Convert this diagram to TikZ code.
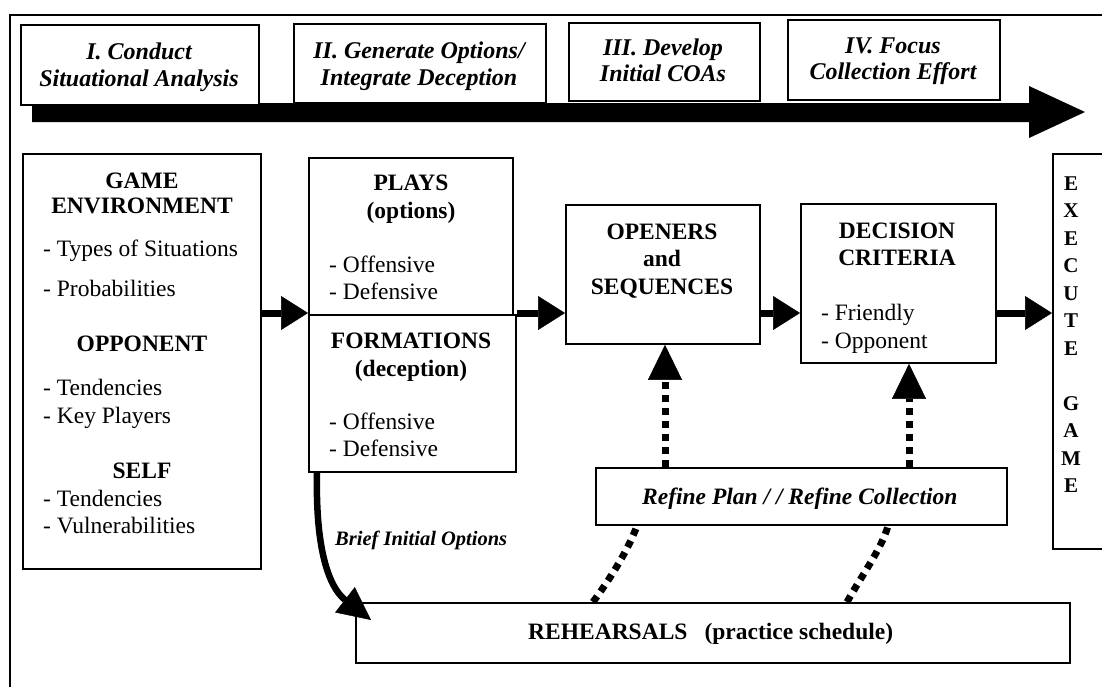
\documentclass[tikz,border=0pt]{standalone}
\usepackage{fontspec}
\setmainfont{Liberation Serif}
\usetikzlibrary{arrows.meta}
\begin{document}
\begin{tikzpicture}[x=1pt,y=-1pt,
  box/.style={draw, line width=1.8pt, fill=white, inner sep=0pt, anchor=north west},
  reg/.style={inner sep=0pt, font=\fontsize{23.5}{27}\selectfont},
  item/.style={reg, anchor=base west},
  bld/.style={inner sep=0pt, anchor=base, font=\fontsize{23.5}{27}\selectfont\bfseries},
  phs/.style={inner sep=0pt, anchor=base, font=\fontsize{24}{28}\selectfont\bfseries\itshape},
  arr/.style={line width=7pt, -{Triangle[length=27pt,width=34pt,line width=0.5pt]}},
  dots/.style={line width=7pt, dash pattern=on 7pt off 6pt},
  dotarr/.style={dots, -{Triangle[length=35pt,width=34pt,line width=0.5pt]}},
  arrb/.style={line width=6.5pt, -{Triangle[length=33pt,width=32pt,line width=0.5pt]}}]
\path[use as bounding box] (0,0) rectangle (1102,686);
\clip (0,0) rectangle (1102,686);

% outer frame
\draw[line width=1.8pt] (1120,15) -- (10,15) -- (10,700);

% big phase arrow
\fill (32,103) -- (1029,103) -- (1029,86) -- (1085,112) -- (1029,138) -- (1029,122) -- (32,122) -- cycle;

% phase boxes
\node[box, minimum width=238pt, minimum height=80pt] (p1) at (20,24) {};
\node[box, minimum width=252pt, minimum height=79pt] (p2) at (293,23) {};
\node[box, minimum width=191pt, minimum height=78pt] (p3) at (568,22) {};
\node[box, minimum width=212pt, minimum height=80pt] (p4) at (787,19) {};
\node[phs] (p1a) at (139,59) {I. Conduct};
\node[phs] (p1b) at (139,86) {Situational Analysis};
\node[phs] (p2a) at (419,58) {II. Generate Options/};
\node[phs] (p2b) at (419,85) {Integrate Deception};
\node[phs] (p3a) at (663,55) {III. Develop};
\node[phs] (p3b) at (663,81) {Initial COAs};
\node[phs] (p4a) at (893,53) {IV. Focus};
\node[phs] (p4b) at (893,79) {Collection Effort};

% game environment
\node[box, minimum width=238pt, minimum height=415pt] (game) at (22,153) {};
\node[bld] (g1) at (142,188) {GAME};
\node[bld] (g2) at (142,213) {ENVIRONMENT};
\node[item] (g3) at (43,256) {- Types of Situations};
\node[item] (g4) at (43,296) {- Probabilities};
\node[bld] (g5) at (142,351) {OPPONENT};
\node[item] (g6) at (43,395) {- Tendencies};
\node[item] (g7) at (43,423) {- Key Players};
\node[bld] (g8) at (142,478) {SELF};
\node[item] (g9) at (43,506) {- Tendencies};
\node[item] (g10) at (43,533) {- Vulnerabilities};

% plays / formations
\node[box, minimum width=204pt, minimum height=157pt] (plays) at (308,157) {};
\node[box, minimum width=207pt, minimum height=157pt] (form) at (308,314) {};
\node[bld] (q1) at (411,190) {PLAYS};
\node[bld] (q2) at (411,218) {(options)};
\node[item] (q3) at (329,272) {- Offensive};
\node[item] (q4) at (329,299) {- Defensive};
\node[bld] (q5) at (411,348) {FORMATIONS};
\node[bld] (q6) at (411,376) {(deception)};
\node[item] (q7) at (329,429) {- Offensive};
\node[item] (q8) at (329,456) {- Defensive};

% openers
\node[box, minimum width=194pt, minimum height=139pt] (open) at (565,204) {};
\node[bld] (o1) at (662,239) {OPENERS};
\node[bld] (o2) at (662,266) {and};
\node[bld] (o3) at (662,294) {SEQUENCES};

% decision criteria
\node[box, minimum width=195pt, minimum height=159pt] (dec) at (800,203) {};
\node[bld] (d1) at (897,238) {DECISION};
\node[bld] (d2) at (897,265) {CRITERIA};
\node[item] (d3) at (821,320) {- Friendly};
\node[item] (d4) at (821,348) {- Opponent};

% execute game
\node[box, minimum width=100pt, minimum height=395pt] (exec) at (1052,153) {};
\foreach \l/\i in {E/0,X/1,E/2,C/3,U/4,T/5,E/6,G/8,A/9,M/10,E/11}
  \node[inner sep=0pt, anchor=base, font=\fontsize{21}{25}\selectfont\bfseries] (ex\i) at (1071,{190+27.5*\i}) {\l};

% refine
\node[box, minimum width=411pt, minimum height=57pt] (refine) at (595,467) {};
\node[inner sep=0pt, anchor=base west, font=\fontsize{23.5}{27}\selectfont\bfseries\itshape] (rt) at (642,504) {Refine Plan / / Refine Collection};

% rehearsals
\node[box, minimum width=714pt, minimum height=60pt] (reh) at (355,602) {};
\node[inner sep=0pt, anchor=base west, font=\fontsize{23.5}{27}\selectfont\bfseries] (rht) at (528,639) {REHEARSALS\hspace{17pt}(practice schedule)};

% brief label
\node[inner sep=0pt, anchor=base west, font=\fontsize{20.5}{24}\selectfont\bfseries\itshape] (bt0) at (335,545) {Brief Initial Options};

% connectors
\coordinate (ay) at (0,313);
\draw[arr] (game.east |- ay) -- (plays.west |- ay);
\draw[arr] (form.east |- ay) -- (open.west |- ay);
\draw[arr] (open.east |- ay) -- (dec.west |- ay);
\draw[arr] (dec.east |- ay) -- (exec.west |- ay);

\coordinate (dx1) at (665,0);
\coordinate (dx2) at (909,0);
\draw[dotarr] (refine.north -| dx1) -- (open.south -| dx1);
\draw[dotarr] (refine.north -| dx2) -- (dec.south -| dx2);

\coordinate (c1a) at (593,0);
\coordinate (c1b) at (637,0);
\coordinate (c2a) at (847,0);
\coordinate (c2b) at (888,0);
\draw[dots] (reh.north -| c1a) .. controls (612,576) and (628,550) .. (refine.south -| c1b);
\draw[dots] (reh.north -| c2a) .. controls (862,575) and (882,548) .. (refine.south -| c2b);

\coordinate (bx) at (317,0);
\coordinate (btip) at (371,620);
\draw[arrb] (form.south -| bx) .. controls (315,565) and (335,592) .. (btip);
\end{tikzpicture}
\end{document}
